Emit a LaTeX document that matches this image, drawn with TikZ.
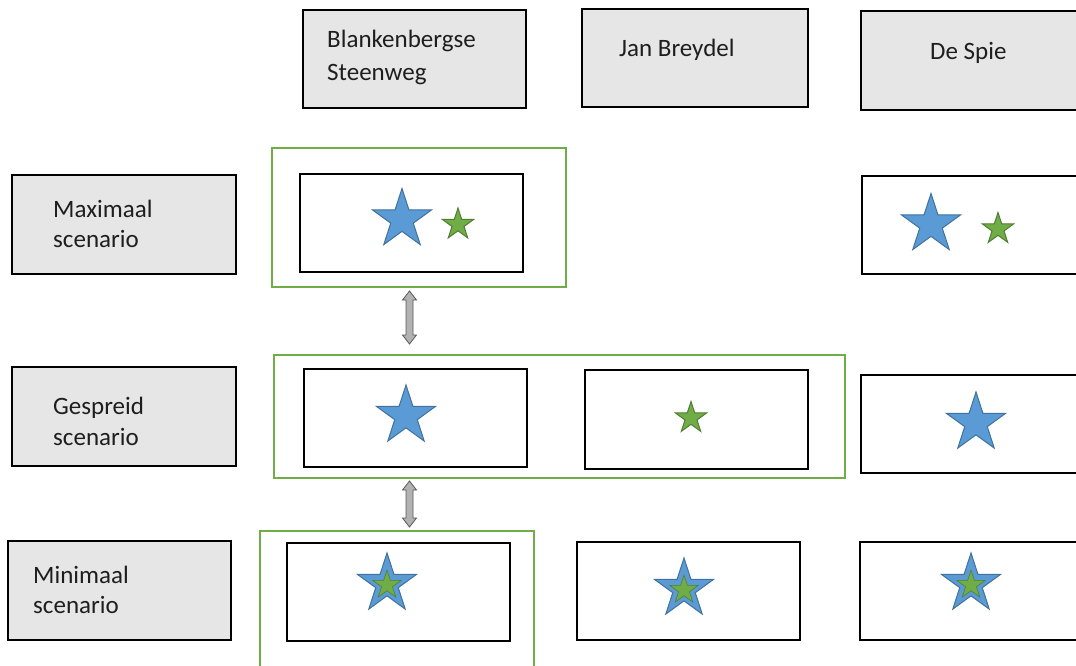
\documentclass[tikz,border=0pt]{standalone}
\usepackage{fontspec}
\setmainfont{Carlito}
\usetikzlibrary{shapes.geometric,calc}
\definecolor{hdrgray}{HTML}{E7E6E6}
\definecolor{grnline}{HTML}{70AD47}
\definecolor{bluefill}{HTML}{5B9BD5}
\definecolor{blueedge}{HTML}{41719C}
\definecolor{grnfill}{HTML}{70AD47}
\definecolor{grnedge}{HTML}{507E32}
\definecolor{txt}{HTML}{1E1E1E}
\tikzset{
  graybox/.style={draw=black, line width=2.2pt, fill=hdrgray, rectangle, inner sep=0pt},
  whitebox/.style={draw=black, line width=2.2pt, fill=white, rectangle, inner sep=0pt},
  greenbox/.style={draw=grnline, line width=2pt, rectangle, inner sep=0pt},
  lbl/.style={anchor=base west, inner sep=0pt, text=txt, font=\fontsize{25}{30}\selectfont},
  bigstar/.style={star, star points=5, star point ratio=2.618, inner sep=0pt, minimum size=62pt, fill=bluefill, draw=blueedge, line width=1pt},
  smallstar/.style={star, star points=5, star point ratio=2.618, inner sep=0pt, minimum size=33pt, fill=grnfill, draw=grnedge, line width=1pt},
  innerstar/.style={star, star points=5, star point ratio=2.618, inner sep=0pt, minimum size=30pt, fill=grnfill, draw=grnedge, line width=0.6pt},
  dblarr/.style={fill=gray!60, draw=black!65, line width=0.8pt, line join=miter},
}
\begin{document}
\begin{tikzpicture}[x=1pt,y=-1pt]
\useasboundingbox (0,0) rectangle (1076,665);
\clip (0,0) rectangle (1076,665);

% header boxes
\node[graybox, minimum width=223pt, minimum height=98pt] (hbs) at (414.5,59) {};
\node[graybox, minimum width=226pt, minimum height=98pt] (hjb) at (695,58) {};
\node[graybox, minimum width=229pt, minimum height=99pt] (hds) at (975.5,60.5) {};
\node[lbl] (tbs1) at (327,47) {Blankenbergse};
\node[lbl] (tbs2) at (327,80) {Steenweg};
\node[lbl] (tjb) at (619,56) {Jan Breydel};
\node[lbl] (tds) at (930,59) {De Spie};

% row labels
\node[graybox, minimum width=224pt, minimum height=99pt] (lmax) at (124,224.5) {};
\node[graybox, minimum width=224pt, minimum height=99pt] (lgsp) at (124,416.5) {};
\node[graybox, minimum width=223pt, minimum height=99pt] (lmin) at (119.5,590.5) {};
\node[lbl] (tmax1) at (53,217) {Maximaal};
\node[lbl] (tmax2) at (53,247) {scenario};
\node[lbl] (tgsp1) at (53,414) {Gespreid};
\node[lbl] (tgsp2) at (53,445) {scenario};
\node[lbl] (tmin1) at (33,583) {Minimaal};
\node[lbl] (tmin2) at (33,613) {scenario};

% green selection frames
\node[greenbox, minimum width=294pt, minimum height=139pt] (g1) at (419,217.5) {};
\node[greenbox, minimum width=571pt, minimum height=123pt] (g2) at (559.5,416.5) {};
\node[greenbox, minimum width=274pt, minimum height=169pt] (g3) at (397,615.5) {};

% inner boxes
\node[whitebox, minimum width=223pt, minimum height=98pt] (r1bs) at (411.5,223) {};
\node[whitebox, minimum width=228pt, minimum height=98pt] (r1ds) at (976,225) {};
\node[whitebox, minimum width=223pt, minimum height=98pt] (r2bs) at (415.5,418) {};
\node[whitebox, minimum width=223pt, minimum height=99pt] (r2jb) at (696.5,419.5) {};
\node[whitebox, minimum width=229pt, minimum height=98pt] (r2ds) at (975.5,424) {};
\node[whitebox, minimum width=223pt, minimum height=98pt] (r3bs) at (398.5,592) {};
\node[whitebox, minimum width=223pt, minimum height=98pt] (r3jb) at (688.5,591) {};
\node[whitebox, minimum width=230pt, minimum height=98pt] (r3ds) at (975,591) {};

% stars row 1
\node[bigstar] (s1a) at (402,219.5) {};
\node[smallstar] (s1b) at (458,224.5) {};
\node[bigstar] (s1c) at (931,224.5) {};
\node[smallstar] (s1d) at (998,229) {};
% stars row 2
\node[bigstar] (s2a) at (406,416) {};
\node[smallstar] (s2b) at (691,418) {};
\node[bigstar] (s2c) at (976,423) {};
% stars row 3
\node[bigstar] (s3a) at (387,584) {};
\node[innerstar] (s3ai) at (387,585) {};
\node[bigstar] (s3b) at (684,589) {};
\node[innerstar] (s3bi) at (684,590) {};
\node[bigstar] (s3c) at (971,584) {};
\node[innerstar] (s3ci) at (971,585) {};

% double arrows
\coordinate (a1t) at ($(g1.south)+(-9.5,3)$);
\coordinate (a1b) at ($(g2.north -| a1t)+(0,-10)$);
\coordinate (a2t) at ($(g2.south -| a1t)+(0,2)$);
\coordinate (a2b) at ($(g3.north -| a1t)+(0,-3)$);
\foreach \t/\b in {a1t/a1b, a2t/a2b}{
  \draw[dblarr] (\t) -- ++(7,9) -- ++(-3.5,0) -- ($(\b)+(3.5,-9)$) -- ++(3.5,0) -- (\b)
    -- ++(-7,-9) -- ++(3.5,0) -- ($(\t)+(-3.5,9)$) -- ++(-3.5,0) -- cycle;
}
\end{tikzpicture}
\end{document}
